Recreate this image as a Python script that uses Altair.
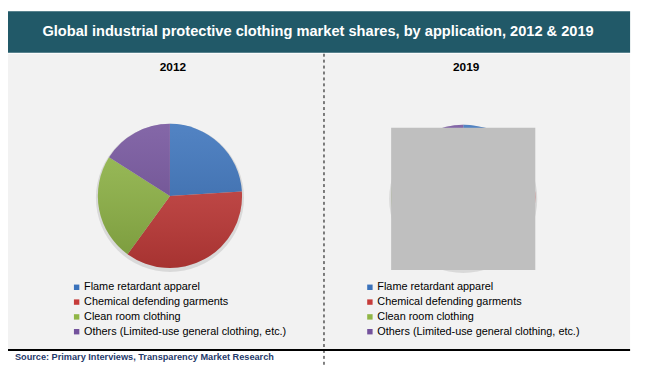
import altair as alt
import pandas as pd

categories = [
    "Flame retardant apparel",
    "Chemical defending garments",
    "Clean room clothing",
    "Others (Limited-use general clothing, etc.)",
]
share_2012 = [24, 36, 24, 16]
share_2019 = [23, 37, 25, 15]
colors = ["#3a72bb", "#c63c3a", "#90b646", "#73529c"]
years = ["2012", "2019"]
title = "Global industrial protective clothing market shares, by application, 2012 & 2019"
source = "Source: Primary Interviews, Transparency Market Research"

FONT = "Liberation Sans"
W, H = 638, 365

dummy = pd.DataFrame({"a": [0]})
base = alt.Chart(dummy)

banner = base.mark_rect(color="#215968").encode(
    x=alt.value(0), x2=alt.value(630), y=alt.value(1), y2=alt.value(43))
bg = base.mark_rect(color="#f2f2f2").encode(
    x=alt.value(0), x2=alt.value(630), y=alt.value(44), y2=alt.value(343))
title_t = base.mark_text(text=title, font=FONT, fontSize=14.8, fontWeight="bold",
                         color="white", align="center", baseline="middle").encode(
    x=alt.value(314), y=alt.value(22))
divider = base.mark_rule(color="black", strokeDash=[3, 3], strokeWidth=1).encode(
    x=alt.value(320), y=alt.value(44), y2=alt.value(359))
baseline_rule = base.mark_rule(color="black", strokeWidth=2).encode(
    x=alt.value(0), x2=alt.value(630), y=alt.value(344))
source_t = base.mark_text(text=source, font=FONT, fontSize=9.3, fontWeight="bold",
                          color="#1f3a6b", align="left", baseline="middle").encode(
    x=alt.value(7), y=alt.value(351))


def year_label(txt, cx):
    return base.mark_text(text=txt, font=FONT, fontSize=12, fontWeight="bold",
                          color="black", align="center", baseline="middle").encode(
        x=alt.value(cx), y=alt.value(57))


def shadow(cx, cy):
    return base.mark_arc(radius=75, theta=0, theta2=6.2832, color="black",
                         opacity=0.10).encode(x=alt.value(cx), y=alt.value(cy + 2))


def shade(cx, cy):
    grad = alt.LinearGradient(
        gradient="linear", x1=0, y1=0, x2=0, y2=1,
        stops=[alt.GradientStop(color="rgba(255,255,255,0.12)", offset=0),
               alt.GradientStop(color="rgba(0,0,0,0.16)", offset=1)])
    return base.mark_arc(radius=73, theta=0, theta2=6.2832, fill=grad).encode(
        x=alt.value(cx), y=alt.value(cy))


def pie(values, cx, cy, lx, ly):
    df = pd.DataFrame({"cat": categories, "share": values, "idx": list(range(len(categories)))})
    return alt.Chart(df).mark_arc(radius=73).encode(
        theta=alt.Theta("share:Q", stack=True),
        color=alt.Color(
            "cat:N",
            scale=alt.Scale(domain=categories, range=colors),
            legend=alt.Legend(orient="none", legendX=lx, legendY=ly, title=None,
                              symbolType="square", symbolSize=30, symbolStrokeWidth=0,
                              labelFont=FONT, labelFontSize=11, labelColor="black",
                              rowPadding=3, labelOffset=2, labelLimit=400, padding=0)),
        order=alt.Order("idx:Q"),
        x=alt.value(cx), y=alt.value(cy),
    )


pie12 = pie(share_2012, 164, 188, 64, 275)
pie19 = pie(share_2019, 461, 189, 361, 275)

cover = base.mark_rect(color="#bfbfbf").encode(
    x=alt.value(388), x2=alt.value(534), y=alt.value(119), y2=alt.value(263))

chart = alt.layer(
    banner, bg, title_t, divider, baseline_rule, source_t,
    year_label(years[0], 167), year_label(years[1], 464),
    shadow(164, 188), pie12, shade(164, 188),
    shadow(461, 189), pie19, shade(461, 189), cover,
).resolve_scale(color="independent").properties(
    width=W, height=H, autosize="none", padding=0, background="white"
).configure_view(stroke=None)

chart.save("out.html", embed_options={"renderer": "svg", "actions": False})
